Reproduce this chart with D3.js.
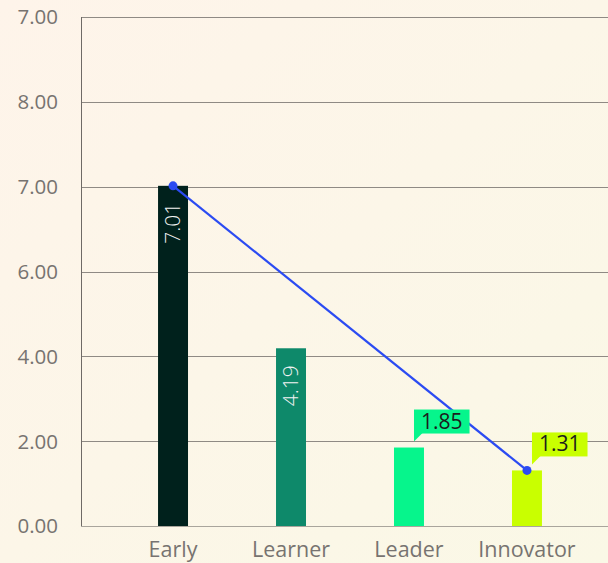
<!DOCTYPE html>
<html>
<head>
<meta charset="utf-8">
<script src="https://cdn.jsdelivr.net/npm/d3@7"></script>
<style>
  html, body { margin: 0; padding: 0; }
  body { width: 608px; height: 563px; overflow: hidden; }
  svg { display: block; font-family: "Open Sans", "Noto Sans", sans-serif; }
</style>
</head>
<body>
<svg id="chart" width="608" height="563"></svg>
<script>
// Stage categories and their scores
const categories = ["Early", "Learner", "Leader", "Innovator"];
const values = [7.01, 4.19, 1.85, 1.31];
const barColors = ["#00211c", "#0e896a", "#06f58c", "#c9ff00"];
// Trend line between the first and last stage
const lineCategories = ["Early", "Innovator"];
const lineValues = [7.01, 1.31];
// Value axis tick labels, bottom to top
const yTickValues = [0, 2, 4, 6, 7, 8, 7];
// Labels drawn inside the bar (rotated) vs. as callouts above it
const insideLabel = [true, true, false, false];

const W = 608, H = 563;
const margin = { top: 17, left: 81, bottom: 37 };
const plotBottom = H - margin.bottom;

const svg = d3.select("#chart");

// Soft diagonal background wash
const defs = svg.append("defs");
const grad = defs.append("linearGradient")
  .attr("id", "bg").attr("x1", "0").attr("y1", "0").attr("x2", "1").attr("y2", "1");
grad.append("stop").attr("offset", "0%").attr("stop-color", "#fef4ea");
grad.append("stop").attr("offset", "100%").attr("stop-color", "#faf8e6");
svg.append("rect").attr("width", W).attr("height", H).attr("fill", "url(#bg)");

// Category scale
const x = d3.scaleBand()
  .domain(categories)
  .range([margin.left, 619])
  .paddingInner(0.746)
  .paddingOuter(0.653);

// Tick slots are evenly spaced; values map piecewise between labelled ticks
const ySlot = d3.scaleLinear().domain([0, yTickValues.length - 1]).range([plotBottom, margin.top]);
const monoTicks = yTickValues.slice(0, 6);
const yValueToSlot = d3.scaleLinear().domain(monoTicks).range(monoTicks.map((d, i) => i));
const y = v => ySlot(yValueToSlot(v));

// Gridlines
const grid = svg.append("g");
yTickValues.forEach((t, i) => {
  const yy = Math.round(ySlot(i)) + 0.5;
  grid.append("line")
    .attr("x1", margin.left).attr("x2", W)
    .attr("y1", yy).attr("y2", yy)
    .attr("stroke", i === 0 ? "#a9a59c" : "#8f8a84")
    .attr("stroke-width", 1);
});

// Left axis line
svg.append("line")
  .attr("x1", margin.left + 0.5).attr("x2", margin.left + 0.5)
  .attr("y1", margin.top).attr("y2", plotBottom)
  .attr("stroke", "#6f6a66").attr("stroke-width", 1);

// Y tick labels
svg.append("g").selectAll("text")
  .data(yTickValues)
  .join("text")
  .attr("x", 58)
  .attr("y", (d, i) => ySlot(i))
  .attr("dy", "0.36em")
  .attr("text-anchor", "end")
  .attr("font-size", 20.5)
  .attr("fill", "#777370")
  .text(d => d3.format(".2f")(d));

// Bars
svg.append("g").selectAll("rect")
  .data(values)
  .join("rect")
  .attr("x", (d, i) => x(categories[i]))
  .attr("width", x.bandwidth())
  .attr("y", d => y(d))
  .attr("height", d => plotBottom - y(d))
  .attr("fill", (d, i) => barColors[i]);

// X category labels
svg.append("g").selectAll("text")
  .data(categories)
  .join("text")
  .attr("x", d => x(d) + x.bandwidth() / 2)
  .attr("y", 557)
  .attr("text-anchor", "middle")
  .attr("font-size", 21.5)
  .attr("fill", "#777370")
  .text(d => d);

// Trend line with end markers
const linePts = lineCategories.map((c, i) => [x(c) + x.bandwidth() / 2, y(lineValues[i])]);
svg.append("path")
  .attr("d", d3.line()(linePts))
  .attr("fill", "none")
  .attr("stroke", "#2b4bf2")
  .attr("stroke-width", 2.2);
svg.append("g").selectAll("circle")
  .data(linePts)
  .join("circle")
  .attr("cx", d => d[0]).attr("cy", d => d[1])
  .attr("r", 4.5)
  .attr("fill", "#2b4bf2");

// Value labels
const labels = svg.append("g");
values.forEach((v, i) => {
  const cx = x(categories[i]) + x.bandwidth() / 2;
  const top = y(v);
  const txt = d3.format(".2f")(v);
  if (insideLabel[i]) {
    labels.append("text")
      .attr("transform", `translate(${cx},${top + 17}) rotate(-90)`)
      .attr("text-anchor", "end")
      .attr("dy", "0.35em")
      .attr("font-size", 21)
      .attr("font-weight", 300)
      .attr("fill", "#f2f2f2")
      .text(txt);
  } else {
    const bx = cx + 5;
    const boxBottom = top - 14;
    const g = labels.append("g");
    const t = g.append("text")
      .attr("x", bx + 7)
      .attr("y", boxBottom - 5)
      .attr("font-size", 21)
      .attr("fill", "#1c1c1c")
      .text(txt);
    const tw = t.node().getComputedTextLength();
    g.insert("rect", "text")
      .attr("x", bx).attr("y", boxBottom - 24)
      .attr("width", tw + 14).attr("height", 24)
      .attr("fill", barColors[i]);
    g.insert("path", "text")
      .attr("d", `M${bx},${boxBottom - 1}L${bx},${boxBottom + 8}L${bx + 9},${boxBottom - 1}Z`)
      .attr("fill", barColors[i]);
  }
});
</script>
</body>
</html>
